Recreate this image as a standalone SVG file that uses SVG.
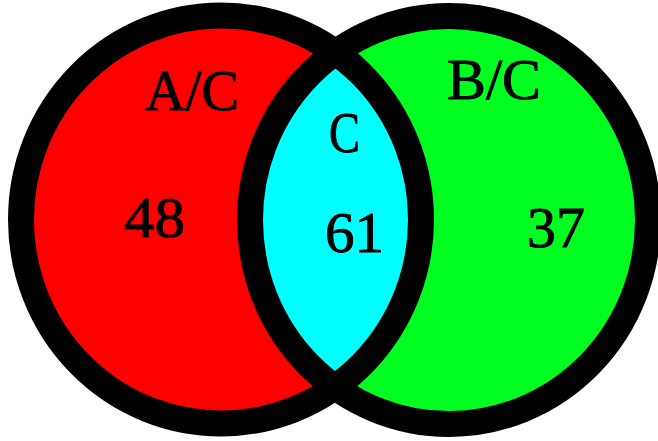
<svg xmlns="http://www.w3.org/2000/svg" width="658" height="441" viewBox="0 0 658 441">
  <style>
    .lbl { font-family: "Liberation Serif", "Times New Roman", serif; font-size: 57px; fill: #000; stroke: #000; stroke-width: 0.9; text-anchor: middle; }
    .ring { fill: none; stroke: #000; stroke-width: 26; }
  </style>
  <defs>
    <clipPath id="clipLeft">
      <ellipse cx="221" cy="219.5" rx="200" ry="204"/>
    </clipPath>
  </defs>
  <rect width="658" height="441" fill="#fff"/>
  <g id="set-A">
    <ellipse cx="221" cy="219.5" rx="200" ry="204" fill="#ff0000"/>
  </g>
  <g id="set-B">
    <ellipse cx="449" cy="220" rx="199" ry="204" fill="#00ff21"/>
  </g>
  <g id="set-C">
    <ellipse cx="449" cy="220" rx="199" ry="204" fill="#00ffff" clip-path="url(#clipLeft)"/>
  </g>
  <g id="outlines">
    <ellipse class="ring" cx="221" cy="219.5" rx="200" ry="204"/>
    <ellipse class="ring" cx="449" cy="220" rx="199" ry="204"/>
  </g>
  <g id="connectors"/>
  <g id="labels">
    <text class="lbl" x="192" y="110" textLength="94" lengthAdjust="spacingAndGlyphs">A/C</text>
    <text class="lbl" x="494" y="99" textLength="94" lengthAdjust="spacingAndGlyphs">B/C</text>
    <text class="lbl" x="344.5" y="152" textLength="31" lengthAdjust="spacingAndGlyphs">C</text>
    <text class="lbl" x="154.5" y="237" textLength="61" lengthAdjust="spacingAndGlyphs">48</text>
    <text class="lbl" x="354.5" y="252" textLength="59" lengthAdjust="spacingAndGlyphs">61</text>
    <text class="lbl" x="556" y="247" textLength="58" lengthAdjust="spacingAndGlyphs">37</text>
  </g>
</svg>
